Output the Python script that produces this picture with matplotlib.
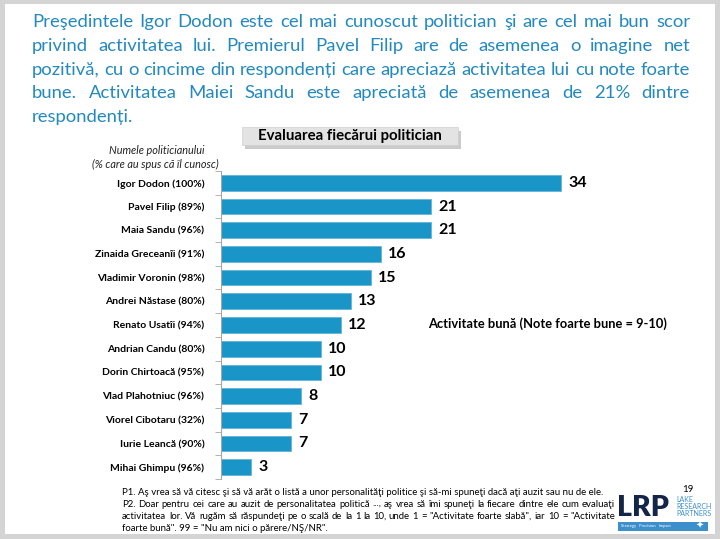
import matplotlib
matplotlib.use('Agg')
import matplotlib.pyplot as plt
from matplotlib.patches import Rectangle

W, H = 720, 539
plt.rcParams['font.family'] = ['Lato', 'DejaVu Sans']

# date
names = ['Igor Dodon (100%)', 'Pavel Filip (89%)', 'Maia Sandu (96%)',
         'Zinaida Greceanîi (91%)', 'Vladimir Voronin (98%)', 'Andrei Năstase (80%)',
         'Renato Usatîi (94%)', 'Andrian Candu (80%)', 'Dorin Chirtoacă (95%)',
         'Vlad Plahotniuc (96%)', 'Viorel Cibotaru (32%)', 'Iurie Leancă (90%)',
         'Mihai Ghimpu (96%)']
scores = [34, 21, 21, 16, 15, 13, 12, 10, 10, 8, 7, 7, 3]

headline = [
    'Preşedintele Igor Dodon este cel mai cunoscut politician şi are cel mai bun scor',
    'privind activitatea lui. Premierul Pavel Filip are de asemenea o imagine net',
    'pozitivă, cu o cincime din respondenți care apreciază activitatea lui cu note foarte',
    'bune. Activitatea Maiei Sandu este apreciată de asemenea de 21% dintre',
    'respondenți.',
]
footnote = [
    'P1. Aş vrea să vă citesc şi să vă arăt o listă a unor personalităţi politice şi să-mi spuneţi dacă aţi auzit sau nu de ele.',
    'P2. Doar pentru cei care au auzit de personalitatea politică ..., aş vrea să îmi spuneţi la fiecare dintre ele cum evaluaţi',
    'activitatea lor. Vă rugăm să răspundeţi pe o scală de la 1 la 10, unde 1 = "Activitate foarte slabă", iar 10 = "Activitate',
    'foarte bună". 99 = "Nu am nici o părere/NŞ/NR".',
]

chart_title = 'Evaluarea fiecărui politician'
legend_text = 'Activitate bună (Note foarte bune = 9-10)'

BLUE_TXT = '#2389bf'
BLUE_BAR = '#1a95c7'


def px(x, y):
    return x / W, 1 - y / H


def text_width(fig, r, s, **kw):
    t = fig.text(0, 0, s, **kw)
    w = t.get_window_extent(r).width
    t.remove()
    return w


def fit_size(fig, r, lines, width, base=10, **kw):
    widest = max(text_width(fig, r, l, fontsize=base, **kw) for l in lines)
    return base * width / widest


def justify(fig, r, line, x0, x1, y, **kw):
    # asezare cuvant cu cuvant, pe linia de baza
    words = line.split(' ')
    ws = [text_width(fig, r, w, **kw) for w in words]
    gap = (x1 - x0 - sum(ws)) / (len(words) - 1)
    x = x0
    for w, wd in zip(words, ws):
        fig.text(*px(x, y), w, ha='left', va='baseline', **kw)
        x += wd + gap


fig = plt.figure(figsize=(W / 100, H / 100), dpi=100, facecolor='#d4d4d4')
r = fig.canvas.get_renderer()

# slide alb
fig.add_artist(Rectangle(px(5, 534), 710 / W, 530 / H, transform=fig.transFigure,
                         facecolor='white', edgecolor='none', zorder=0))

# titlul mare, justificat
x0, x1 = 32, 690
fs = fit_size(fig, r, headline[:4], x1 - x0, color=BLUE_TXT)
for i, line in enumerate(headline):
    y = 27 + i * 23.8
    if i < 4:
        justify(fig, r, line, x0, x1, y, fontsize=fs, color=BLUE_TXT)
    else:
        fig.text(*px(x0, y), line, ha='left', va='baseline', fontsize=fs, color=BLUE_TXT)

# caseta cu titlul graficului
fig.add_artist(Rectangle(px(245, 149), 216 / W, 18 / H, transform=fig.transFigure,
                         facecolor='#a8a8a8', edgecolor='none', alpha=0.6, zorder=1))
fig.add_artist(Rectangle(px(242, 145), 216 / W, 18 / H, transform=fig.transFigure,
                         facecolor='#e3e3e3', edgecolor='#d0d0d0', linewidth=0.5, zorder=2))
fig.text(*px(350, 136), chart_title, ha='center', va='center', fontsize=10.8,
         fontweight='bold', color='black', zorder=3)

fig.text(*px(157, 150), 'Numele politicianului', ha='center', va='center',
         fontsize=7.8, style='italic', color='#222222')
fig.text(*px(155, 164), '(% care au spus că îl cunosc)', ha='center', va='center',
         fontsize=7.8, style='italic', color='#222222')

# graficul cu bare
ax_l, ax_r, ax_t, ax_b = 221, 715, 171, 479
ax = fig.add_axes([ax_l / W, 1 - ax_b / H, (ax_r - ax_l) / W, (ax_b - ax_t) / H])
ax.set_facecolor('none')
ypos = list(range(len(names)))
ax.barh(ypos, scores, height=0.66, color=BLUE_BAR, edgecolor='#63b5dc', linewidth=0.6)
for yy, v in zip(ypos, scores):
    ax.text(v + 0.7, yy, str(v), ha='left', va='center', fontsize=11.5,
            fontweight='bold', color='black')
ax.set_xlim(0, (ax_r - ax_l) / 10)
ax.set_ylim(len(names) - 0.5, -0.5)
ax.set_yticks(ypos)
ax.set_yticklabels(names, fontsize=7.5, fontweight='bold', color='black')
ax.set_yticks([i - 0.5 for i in range(len(names) + 1)], minor=True)
ax.tick_params(axis='y', which='major', length=0, pad=12)
ax.tick_params(axis='y', which='minor', length=4, color='#a6a6a6', direction='out')
ax.set_xticks([])
for s in ['top', 'right', 'bottom']:
    ax.spines[s].set_visible(False)
ax.spines['left'].set_color('#a6a6a6')
ax.spines['left'].set_linewidth(0.8)

fig.text(*px(428, 324), legend_text, ha='left', va='center', fontsize=9.3,
         fontweight='bold', color='black')

# nota de subsol
fx0, fx1 = 122, 615
ffs = fit_size(fig, r, footnote[1:3], fx1 - fx0, color='black')
for i, line in enumerate(footnote):
    y = 495 + i * 12
    if i in (1, 2):
        justify(fig, r, line, fx0, fx1, y, fontsize=ffs, color='black')
    else:
        fig.text(*px(fx0, y), line, ha='left', va='baseline', fontsize=ffs, color='black')

# numarul paginii si logo
fig.text(*px(688, 490), '19', ha='center', va='center', fontsize=7, color='black')
fig.text(*px(617, 508), 'LRP', ha='left', va='center', fontsize=20.5,
         fontweight='heavy', color='#14254a')
for i, w in enumerate(['LAKE', 'RESEARCH', 'PARTNERS']):
    fig.text(*px(676, 499 + i * 7.5), w, ha='left', va='center', fontsize=5,
             color='#3d8fcb')
fig.add_artist(Rectangle(px(618, 531), 90 / W, 9 / H, transform=fig.transFigure,
                         facecolor='#3d8fcb', edgecolor='none'))
fig.text(*px(621, 526.5), 'Strategy   Precision   Impact', ha='left', va='center',
         fontsize=3, color='white')
fig.text(*px(700, 526), '✦', ha='center', va='center', fontsize=7, color='white',
         family='DejaVu Sans')

fig.savefig('out.png', dpi=100, facecolor=fig.get_facecolor())
